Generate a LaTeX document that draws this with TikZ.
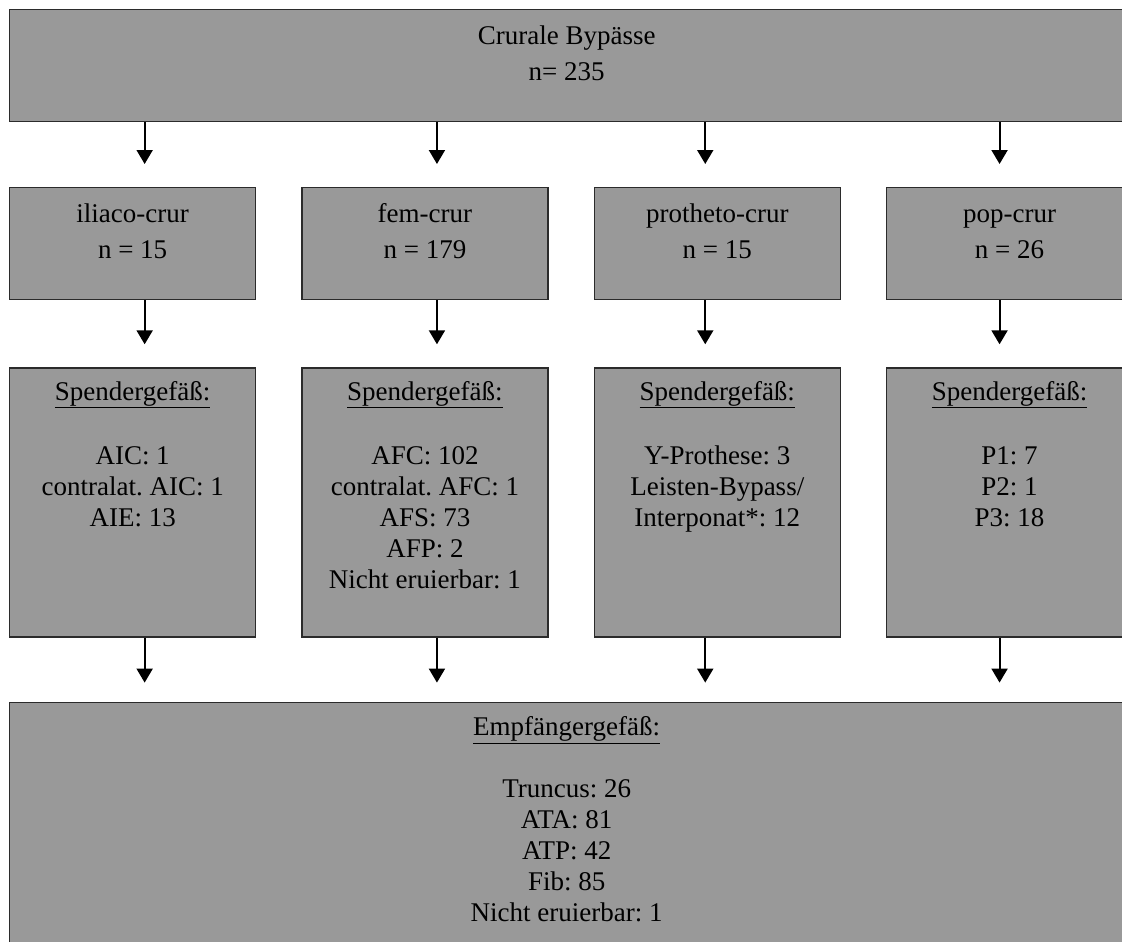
\documentclass[tikz,border=0pt]{standalone}
\usepackage{fontspec}
\setmainfont{Liberation Serif}
\usetikzlibrary{arrows.meta,positioning}
\definecolor{boxgray}{HTML}{999999}
\definecolor{edgegray}{HTML}{2B2B2B}
\frenchspacing

\begin{document}
\begin{tikzpicture}[x=1pt,y=-1pt,
    box/.style={draw=edgegray, line width=1.3pt, fill=boxgray, inner sep=0pt},
    txt/.style={anchor=north, align=center, inner sep=0pt, font=\fontsize{27}{31}\selectfont},
    arr/.style={-{Triangle[width=16pt,length=14pt]}, line width=2pt}]
  \def\boxw{246}
  \def\gap{45pt}
  \clip (0,0) rectangle (1122,942);
  \fill[white] (0,0) rectangle (1122,942);
  % top box
  \node[box, anchor=north west, minimum width=1114, minimum height=112] (top) at (9,9) {};
  \node[txt] (top-t) at ([yshift=-14pt]top.north) {\strut Crurale Bypässe\\[5pt]n= 235};
  % kind of bypass
  \node[box, anchor=north west, minimum width=\boxw, minimum height=112] (ili) at (9,187) {};
  \node[box, minimum width=\boxw, minimum height=112, right=\gap of ili] (fem) {};
  \node[box, minimum width=\boxw, minimum height=112, right=\gap of fem] (pro) {};
  \node[box, minimum width=\boxw, minimum height=112, right=\gap of pro] (pop) {};
  \node[txt] (ili-t) at ([yshift=-14pt]ili.north) {\strut iliaco-crur\\[5pt]n = 15};
  \node[txt] (fem-t) at ([yshift=-14pt]fem.north) {\strut fem-crur\\[5pt]n = 179};
  \node[txt] (pro-t) at ([yshift=-14pt]pro.north) {\strut protheto-crur\\[5pt]n = 15};
  \node[txt] (pop-t) at ([yshift=-14pt]pop.north) {\strut pop-crur\\[5pt]n = 26};
  % donor vessels
  \node[box, anchor=north, minimum width=\boxw, minimum height=269] (ili-sp) at ([yshift=-67pt]ili.south) {};
  \node[box, anchor=north, minimum width=\boxw, minimum height=269] (fem-sp) at ([yshift=-67pt]fem.south) {};
  \node[box, anchor=north, minimum width=\boxw, minimum height=269] (pro-sp) at ([yshift=-67pt]pro.south) {};
  \node[box, anchor=north, minimum width=\boxw, minimum height=269] (pop-sp) at ([yshift=-67pt]pop.south) {};
  \node[txt] (ili-spt) at ([yshift=-11pt]ili-sp.north) {\strut\underline{Spendergefäß:}\\[33pt]AIC: 1\\contralat. AIC: 1\\AIE: 13};
  \node[txt] (fem-spt) at ([yshift=-11pt]fem-sp.north) {\strut\underline{Spendergefäß:}\\[33pt]AFC: 102\\contralat. AFC: 1\\AFS: 73\\AFP: 2\\Nicht eruierbar: 1};
  \node[txt] (pro-spt) at ([yshift=-11pt]pro-sp.north) {\strut\underline{Spendergefäß:}\\[33pt]Y-Prothese: 3\\Leisten-Bypass/\\Interponat*: 12};
  \node[txt] (pop-spt) at ([yshift=-11pt]pop-sp.north) {\strut\underline{Spendergefäß:}\\[33pt]P1: 7\\P2: 1\\P3: 18};
  % recipient vessels
  \node[box, anchor=north west, minimum width=1114, minimum height=260] (emp) at ([yshift=-64pt]ili-sp.south west) {};
  \node[txt] (emp-t) at ([yshift=-12pt]emp.north) {\strut\underline{Empfängergefäß:}\\[31pt]Truncus: 26\\ATA: 81\\ATP: 42\\Fib: 85\\Nicht eruierbar: 1};
  % arrows
  \foreach \n/\s in {ili/12,fem/12,pro/-12,pop/-10}{
    \draw[arr] ([xshift=\s pt]\n.north |- top.south) -- ([xshift=\s pt, yshift=23pt]\n.north);
    \draw[arr] ([xshift=\s pt]\n.south) -- ([xshift=\s pt, yshift=23pt]\n-sp.north);
    \draw[arr] ([xshift=\s pt]\n-sp.south) -- ([xshift=\s pt, yshift=19pt]\n-sp.south |- emp.north);
  }
\end{tikzpicture}
\end{document}
